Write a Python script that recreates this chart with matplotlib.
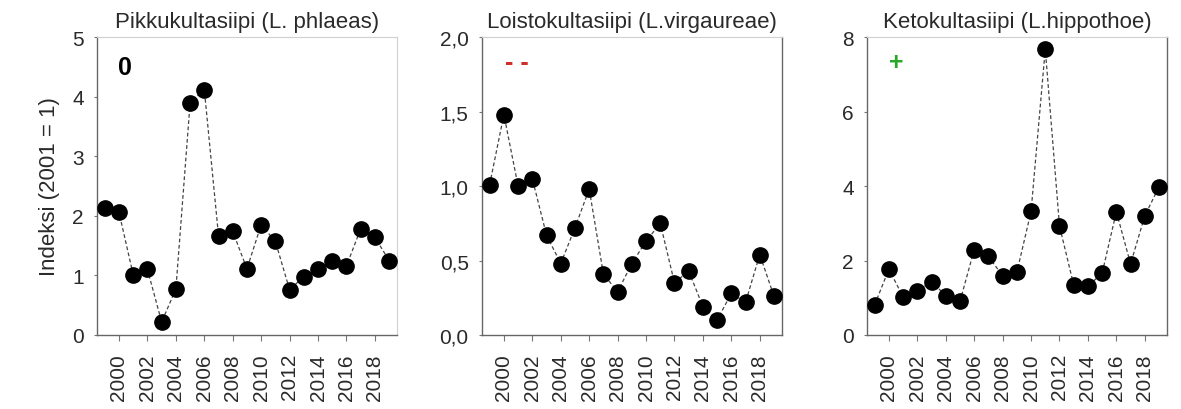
import matplotlib
matplotlib.use("Agg")
import matplotlib.pyplot as plt
from matplotlib.ticker import FuncFormatter

plt.rcParams['font.family'] = ['Liberation Sans', 'DejaVu Sans']

years = list(range(1999, 2020))

titles = ["Pikkukultasiipi (L. phlaeas)",
          "Loistokultasiipi (L.virgaureae)",
          "Ketokultasiipi (L.hippothoe)"]

phlaeas = [2.14, 2.06, 1.01, 1.10, 0.22, 0.77, 3.89, 4.12, 1.67, 1.74, 1.11,
           1.85, 1.57, 0.76, 0.98, 1.11, 1.25, 1.16, 1.78, 1.64, 1.25]
virgaureae = [1.01, 1.48, 1.00, 1.05, 0.67, 0.48, 0.72, 0.98, 0.41, 0.29, 0.48,
              0.63, 0.75, 0.35, 0.43, 0.19, 0.10, 0.28, 0.22, 0.54, 0.26]
hippothoe = [0.81, 1.77, 1.02, 1.19, 1.43, 1.06, 0.90, 2.29, 2.11, 1.59, 1.68,
             3.32, 7.68, 2.93, 1.34, 1.31, 1.66, 3.31, 1.91, 3.20, 3.98]

series = [phlaeas, virgaureae, hippothoe]
ymax = [5, 2, 8]
ytick_lists = [[0, 1, 2, 3, 4, 5], [0.0, 0.5, 1.0, 1.5, 2.0], [0, 2, 4, 6, 8]]
trend_labels = ["0", "- -", "+"]
trend_colors = ["black", "#d0302c", "#28a828"]
trend_pos = [(2000.4, 4.5), (2000.9, 1.83), (2000.5, 7.33)]
xticks = list(range(2000, 2019, 2))

fig = plt.figure(figsize=(11.81, 4.10), dpi=100)
lefts = [0.0821, 0.408, 0.734]
width = 0.254
bottom = 0.1805
height = 0.7265

for i in range(3):
    ax = fig.add_axes([lefts[i], bottom, width, height])
    ax.plot(years, series[i], color='#444444', lw=0.9, ls=(0, (3, 2)),
            marker='o', markersize=11, markerfacecolor='black',
            markeredgecolor='black', zorder=3)
    ax.set_xlim(1998.45, 2019.55)
    ax.set_ylim(0, ymax[i])
    ax.set_xticks(xticks)
    ax.set_xticklabels([str(y) for y in xticks], rotation=90)
    ax.set_yticks(ytick_lists[i])
    if i == 1:
        ax.yaxis.set_major_formatter(FuncFormatter(lambda v, p: f"{v:.1f}".replace('.', ',')))
    else:
        ax.yaxis.set_major_formatter(FuncFormatter(lambda v, p: f"{int(round(v))}"))
    ax.tick_params(axis='both', direction='out', width=0.8,
                   color='#777777', labelsize=15, labelcolor='#2a2a2a')
    ax.tick_params(axis='y', pad=7, length=2.5)
    ax.tick_params(axis='x', pad=9, length=4)
    for s in ['left', 'bottom']:
        ax.spines[s].set_color('#666666')
        ax.spines[s].set_linewidth(1.0)
    ax.spines['top'].set_color('#d0d0d0')
    ax.spines['top'].set_linewidth(0.8)
    ax.spines['right'].set_color('#d0d0d0' if i == 0 else '#666666')
    ax.spines['right'].set_linewidth(0.8 if i == 0 else 1.0)
    ax.set_title(titles[i], fontsize=16, color='#2a2a2a', pad=7)
    ax.text(trend_pos[i][0], trend_pos[i][1], trend_labels[i], color=trend_colors[i],
            fontsize=18, fontweight='bold', ha='center', va='center')
    if i == 0:
        ax.set_ylabel("Indeksi (2001 = 1)", fontsize=16, color='#2a2a2a', labelpad=9)

fig.savefig("out.png", dpi=100)
